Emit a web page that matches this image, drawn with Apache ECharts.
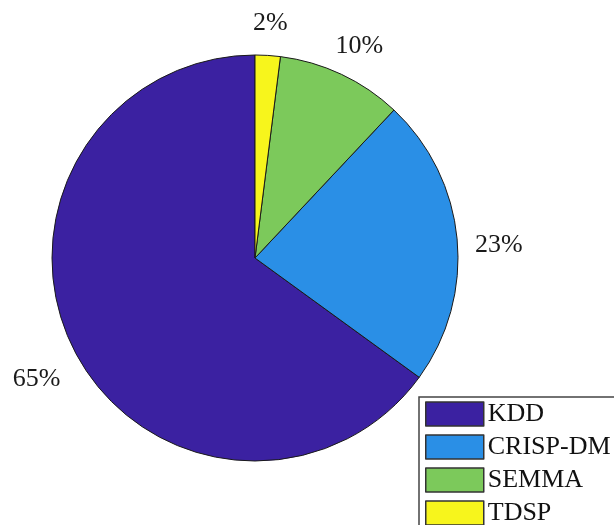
<!DOCTYPE html>
<html>
<head>
<meta charset="utf-8">
<script src="https://cdn.jsdelivr.net/npm/echarts@6/dist/echarts.min.js"></script>
<style>
  html, body { margin: 0; padding: 0; background: #ffffff; }
  #chart { width: 614px; height: 525px; }
</style>
</head>
<body>
<div id="chart"></div>
<script>
// Share of data-mining process models
const categories = ['KDD', 'CRISP-DM', 'SEMMA', 'TDSP'];
const shares = [65, 23, 10, 2];
const sliceColors = ['#3b21a1', '#2a8fe6', '#7cc95b', '#f7f51c'];

const serif = '"Liberation Serif", "Times New Roman", serif';

const chart = echarts.init(document.getElementById('chart'), null, { renderer: 'canvas' });

chart.setOption({
  backgroundColor: '#ffffff',
  animation: false,
  legend: {
    data: categories,
    orient: 'vertical',
    left: 419,
    top: 397,
    width: 300,
    height: 300,
    padding: [4, 40, 20, 6],
    itemWidth: 58,
    itemHeight: 24,
    itemGap: 7,
    icon: 'rect',
    backgroundColor: '#ffffff',
    borderColor: '#444444',
    borderWidth: 1.5,
    itemStyle: { borderColor: '#333333', borderWidth: 1.5 },
    textStyle: { fontFamily: serif, fontSize: 26, color: '#111111', padding: [0, 0, 0, -1] }
  },
  series: [{
    type: 'pie',
    center: [255, 258],
    radius: 203,
    startAngle: 90,
    clockwise: false,
    avoidLabelOverlap: false,
    data: categories.map((name, i) => ({
      name: name,
      value: shares[i],
      itemStyle: { color: sliceColors[i] }
    })),
    itemStyle: { borderColor: '#1a1a1a', borderWidth: 1 },
    emphasis: { disabled: true },
    label: {
      show: true,
      position: 'outside',
      formatter: p => p.value + '%',
      fontFamily: serif,
      fontSize: 26,
      color: '#1a1a1a',
      distanceToLabelLine: 0
    },
    labelLine: { show: false, length: 42, length2: 0 },
    labelLayout: () => ({ align: 'center', verticalAlign: 'middle', dy: 10 })
  }]
});
</script>
</body>
</html>
